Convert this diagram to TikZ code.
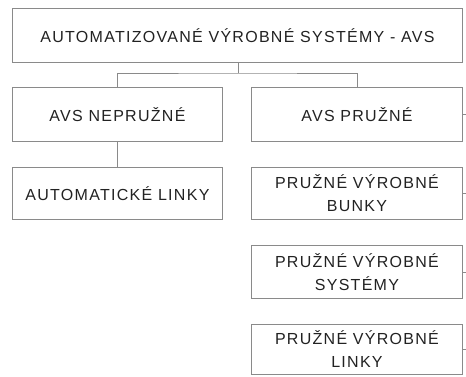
\documentclass[tikz,border=0pt]{standalone}
\usepackage{fontspec}
\setmainfont{Liberation Sans}[LetterSpace=8]
\definecolor{boxline}{HTML}{8A8A8A}
\definecolor{txt}{HTML}{222222}
\begin{document}
\begin{tikzpicture}[x=1pt,y=-1pt,
  box/.style={draw=boxline, line width=0.9pt, fill=white, inner sep=0pt, align=center,
    text=txt, font=\fontsize{16}{23}\selectfont, anchor=north west},
  conn/.style={draw=boxline, line width=0.9pt}]
\useasboundingbox (0,0) rectangle (466,376);
\node[box, minimum width=450pt, minimum height=54pt] (top) at (12,8) {AUTOMATIZOVANÉ VÝROBNÉ SYSTÉMY - AVS};
\node[box, minimum width=210pt, minimum height=54pt] (nep) at (12,87) {AVS NEPRUŽNÉ};
\node[box, minimum width=211pt, minimum height=54pt] (pru) at (251,87) {AVS PRUŽNÉ};
\node[box, minimum width=210pt, minimum height=52pt] (al) at (12,167) {AUTOMATICKÉ LINKY};
\node[box, minimum width=211pt, minimum height=52pt] (pvb) at (251,167) {PRUŽNÉ VÝROBNÉ\\BUNKY};
\node[box, minimum width=211pt, minimum height=53pt] (pvs) at (251,245) {PRUŽNÉ VÝROBNÉ\\SYSTÉMY};
\node[box, minimum width=211pt, minimum height=50pt] (pvl) at (251,324) {PRUŽNÉ VÝROBNÉ\\LINKY};
\coordinate (bus) at (238,73);
\draw[conn] (top.south -| bus) -- (bus);
\draw[conn] (nep.north) |- (bus) -| (pru.north);
\draw[conn] (nep.south) -- (al.north);
\foreach \n in {pru,pvb,pvs,pvl}{
  \coordinate (\n-r) at ([xshift=4pt]\n.east);
  \draw[conn] (\n.east) -- (\n-r);
}
\end{tikzpicture}
\end{document}
